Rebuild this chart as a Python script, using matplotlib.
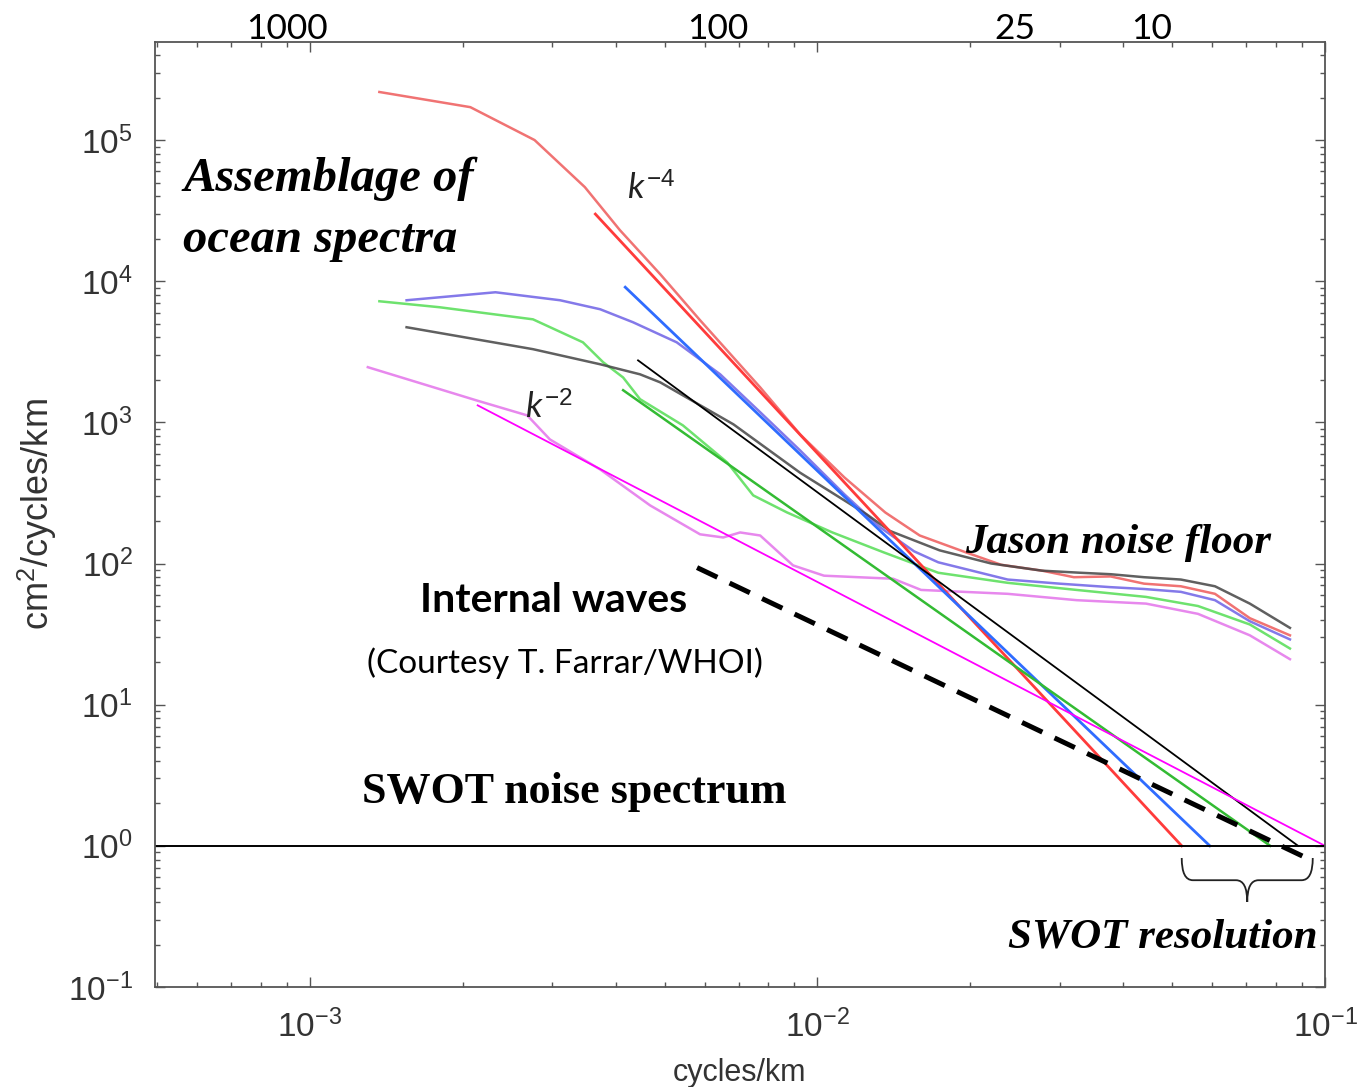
import numpy as np
import matplotlib
matplotlib.use('Agg')
import matplotlib.pyplot as plt
from matplotlib.path import Path
from matplotlib.patches import PathPatch
from matplotlib.ticker import NullFormatter

plt.rcParams['font.family'] = ['Liberation Sans', 'DejaVu Sans']
plt.rcParams['mathtext.fontset'] = 'custom'
plt.rcParams['mathtext.rm'] = 'Liberation Sans'
plt.rcParams['mathtext.it'] = 'Lato:italic'

red_x = [1.37e-3, 2.07e-3, 2.77e-3, 3.48e-3, 4.08e-3, 4.90e-3, 5.87e-3, 7.71e-3, 9.24e-3,
         1.13e-2, 1.36e-2, 1.59e-2, 1.96e-2, 2.3e-2, 2.77e-2, 3.2e-2, 3.78e-2, 4.4e-2, 5.20e-2,
         6.07e-2, 7.11e-2, 8.53e-2]
red_y = [2.19e5, 1.71e5, 1.0e5, 4.64e4, 2.30e4, 1.12e4, 5.29e3, 1.77e3, 822,
         407, 230, 158, 120, 98, 89, 80, 81, 72, 69,
         61, 41, 31]

blue_x = [1.55e-3, 2.32e-3, 3.11e-3, 3.73e-3, 4.33e-3, 5.28e-3, 6.43e-3, 7.71e-3, 9.24e-3,
          1.13e-2, 1.33e-2, 1.55e-2, 1.73e-2, 2.37e-2, 3.0e-2, 3.78e-2, 4.4e-2, 5.20e-2, 6.07e-2,
          7.11e-2, 8.53e-2]
blue_y = [7.33e3, 8.35e3, 7.33e3, 6.33e3, 5.12e3, 3.69e3, 2.19e3, 1.18e3, 633,
          309, 180, 122, 102, 77, 72, 68, 66, 63, 55,
          39, 29]

green_x = [1.37e-3, 1.80e-3, 2.75e-3, 3.45e-3, 3.78e-3, 4.14e-3, 4.47e-3, 5.43e-3, 6.64e-3,
           7.47e-3, 8.71e-3, 1.07e-2, 1.35e-2, 1.73e-2, 2.37e-2, 3.24e-2, 4.44e-2, 5.62e-2,
           7.11e-2, 8.53e-2]
green_y = [7.21e3, 6.54e3, 5.37e3, 3.69e3, 2.67e3, 2.08e3, 1.46e3, 952, 520,
           304, 230, 166, 120, 86, 73, 65, 58, 50,
           37, 25]

black_x = [1.55e-3, 2.75e-3, 3.73e-3, 4.47e-3, 4.90e-3, 6.83e-3, 9.24e-3, 1.25e-2, 1.39e-2,
           1.74e-2, 2.2e-2, 2.77e-2, 3.3e-2, 3.78e-2, 4.4e-2, 5.20e-2, 6.07e-2, 7.11e-2, 8.53e-2]
black_y = [4.72e3, 3.30e3, 2.58e3, 2.19e3, 1.92e3, 968, 440, 223, 170,
           124, 100, 89, 86, 84, 80, 77, 69, 52, 35]

magenta_x = [1.30e-3, 2.13e-3, 2.68e-3, 2.97e-3, 3.73e-3, 4.68e-3, 5.87e-3, 6.52e-3, 7.04e-3,
             7.71e-3, 8.95e-3, 1.03e-2, 1.41e-2, 1.60e-2, 2.37e-2, 3.24e-2, 4.44e-2, 5.62e-2,
             7.11e-2, 8.53e-2]
magenta_y = [2.46e3, 1.43e3, 1.12e3, 757, 464, 258, 161, 153, 166,
             158, 97, 82, 78, 65, 61, 55, 52, 44,
             31, 21]

# power-law fits (k^-4 ... k^-2), end points
red_fit_x, red_fit_y = [3.65e-3, 5.22e-2], [2.99e4, 1.0]
blue_fit_x, blue_fit_y = [4.18e-3, 5.93e-2], [9.07e3, 1.0]
green_fit_x, green_fit_y = [4.14e-3, 7.8e-2], [1.69e3, 1.0]
black_fit_x, black_fit_y = [4.43e-3, 8.85e-2], [2.75e3, 1.0]
magenta_fit_x, magenta_fit_y = [2.14e-3, 0.1], [1.32e3, 1.0]
iw_x, iw_y = [5.79e-3, 9.33e-2], [93.6, 0.8]  # internal waves

swot_noise = 1.0
swot_res = [5.22e-2, 9.46e-2]

top_labels = ['1000', '100', '25', '10']
top_label_x = [9.0e-4, 6.37e-3, 2.45e-2, 4.56e-2]

fig = plt.figure(figsize=(13.59, 10.87), dpi=100)
ax = fig.add_axes([155 / 1359, 100 / 1087, 1170 / 1359, 945 / 1087])
ax.set_xscale('log')
ax.set_yscale('log')
ax.set_xlim(4.95e-4, 0.1)
ax.set_ylim(0.1, 4.95e5)

ax.plot(magenta_x, magenta_y, color='#e373ea', lw=1.8, alpha=0.85)
ax.plot(green_x, green_y, color='#55dd55', lw=1.8, alpha=0.85)
ax.plot(blue_x, blue_y, color='#6e62e6', lw=1.8, alpha=0.85)
ax.plot(red_x, red_y, color='#ee5a5a', lw=1.8, alpha=0.85)
ax.plot(black_x, black_y, color='#444444', lw=1.8, alpha=0.85)

ax.plot(red_fit_x, red_fit_y, color='#ff3b3b', lw=2)
ax.plot(blue_fit_x, blue_fit_y, color='#2f6cff', lw=2)
ax.plot(green_fit_x, green_fit_y, color='#33bb33', lw=1.8)
ax.plot(black_fit_x, black_fit_y, color='black', lw=1.3)
ax.plot(magenta_fit_x, magenta_fit_y, color='#ff00ff', lw=1.3)
ax.plot(iw_x, iw_y, color='black', lw=3.6, dashes=(4.5, 2.7))
ax.axhline(swot_noise, color='black', lw=1.4)

# brace marking the SWOT resolution band
u0, u1 = np.log10(swot_res[0]), np.log10(swot_res[1])
uc, r = (u0 + u1) / 2, 0.022
yt, ym, yb = 0.1365, 0.113, 0.090
pts = [(u0, yt), (u0, ym), (u0 + r, ym), (uc - r, ym), (uc, ym), (uc, yb),
       (uc, ym), (uc + r, ym), (u1 - r, ym), (u1, ym), (u1, yt)]
codes = [Path.MOVETO, Path.CURVE3, Path.CURVE3, Path.LINETO, Path.CURVE3, Path.CURVE3,
         Path.CURVE3, Path.CURVE3, Path.LINETO, Path.CURVE3, Path.CURVE3]
verts = [(10 ** u, v) for u, v in pts]
ax.add_patch(PathPatch(Path(verts, codes), fill=False, lw=1.3, color='#222222',
                       transform=ax.get_xaxis_transform()))

serif = dict(family='Liberation Serif', weight='bold', color='black')
ax.text(0.024, 0.855, 'Assemblage of', style='italic', fontsize=35, va='center', transform=ax.transAxes, **serif)
ax.text(0.024, 0.791, 'ocean spectra', style='italic', fontsize=35, va='center', transform=ax.transAxes, **serif)
ax.text(0.692, 0.470, 'Jason noise floor', style='italic', fontsize=31, va='center', transform=ax.transAxes, **serif)
ax.text(0.177, 0.206, 'SWOT noise spectrum', fontsize=31.7, va='center', transform=ax.transAxes, **serif)
ax.text(0.729, 0.052, 'SWOT resolution', style='italic', fontsize=31, va='center', transform=ax.transAxes, **serif)

ax.text(0.403, 0.845, r'$k^{-4}$', fontsize=25, va='center', color='#222222', transform=ax.transAxes)
ax.text(0.316, 0.613, r'$k^{-2}$', fontsize=25, va='center', color='#222222', transform=ax.transAxes)
ax.text(0.2265, 0.4095, 'Internal waves', family='Lato', weight='bold', fontsize=29.5,
        va='center', transform=ax.transAxes)
ax.text(0.181, 0.343, '(Courtesy T. Farrar/WHOI)', family='Lato', fontsize=24,
        va='center', transform=ax.transAxes)

for lab, xv in zip(top_labels, top_label_x):
    ax.text(xv, 1.003, lab, family='Lato', fontsize=25.5, ha='center', va='baseline',
            transform=ax.get_xaxis_transform())

for s in ax.spines.values():
    s.set_color('#555555')
    s.set_linewidth(1.3)
ax.xaxis.set_minor_formatter(NullFormatter())
ax.yaxis.set_minor_formatter(NullFormatter())
ax.tick_params(which='both', direction='in', top=True, right=True, color='#555555', width=1.0,
               labelsize=24, labelcolor='#333333', pad=16)
ax.tick_params(which='major', length=7)
ax.tick_params(which='minor', length=3.5)
ax.set_xlabel('cycles/km', fontsize=22, color='#333333', labelpad=10)
ax.set_ylabel('cm$^2$/cycles/km', fontsize=26, color='#333333', labelpad=6)

fig.savefig('out.png', dpi=100)
